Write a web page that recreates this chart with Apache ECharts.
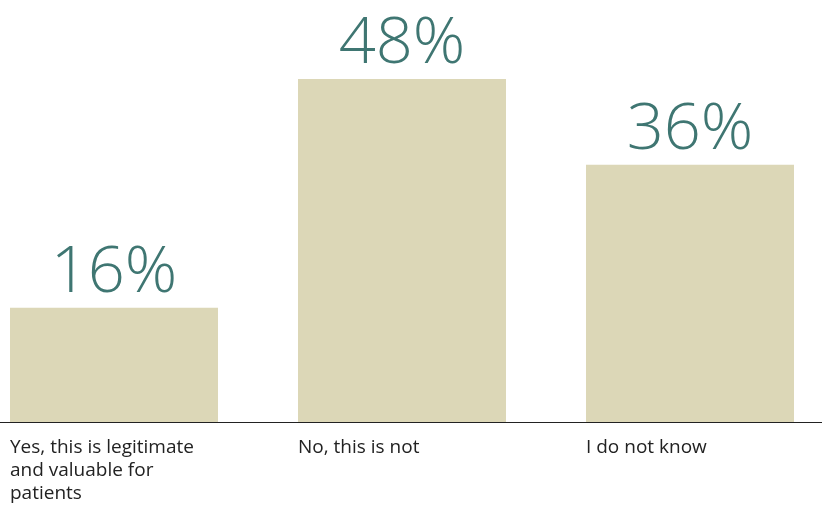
<!DOCTYPE html>
<html>
<head>
<meta charset="utf-8">
<script src="https://cdn.jsdelivr.net/npm/echarts@6/dist/echarts.min.js"></script>
<style>html,body{margin:0;padding:0;background:#fff}#c{width:822px;height:505px}</style>
</head>
<body>
<div id="c"></div>
<script>
var categories = ["Yes, this is legitimate\nand valuable for\npatients", "No, this is not", "I do not know"];
var values = [16, 48, 36];

var chart = echarts.init(document.getElementById('c'), null, {renderer: 'canvas'});
chart.setOption({
  animation: false,
  grid: [
    {left: 114, right: 132, top: 79, bottom: 83, containLabel: false},
    {left: 0, right: 0, top: 79, bottom: 83, containLabel: false}
  ],
  xAxis: [{
    type: 'category',
    gridIndex: 0,
    data: categories,
    boundaryGap: false,
    axisLine: {show: false},
    axisTick: {show: false},
    axisLabel: {
      interval: 0,
      margin: 14,
      align: 'center',
      verticalAlign: 'top',
      formatter: function (v) { return '{a|' + v + '}'; },
      rich: {
        a: {width: 208, align: 'left', fontFamily: 'Open Sans', fontSize: 19, lineHeight: 23, color: '#222'}
      }
    }
  }, {
    type: 'value',
    gridIndex: 1,
    min: 0, max: 1,
    axisLine: {show: true, onZero: false, lineStyle: {color: '#222', width: 1}},
    axisTick: {show: false},
    axisLabel: {show: false},
    splitLine: {show: false}
  }],
  yAxis: [
    {type: 'value', gridIndex: 0, min: 0, max: 48, show: false, splitLine: {show: false}},
    {type: 'value', gridIndex: 1, min: 0, max: 1, show: false, splitLine: {show: false}}
  ],
  series: [{
    type: 'bar',
    xAxisIndex: 0,
    yAxisIndex: 0,
    data: values,
    barWidth: 208,
    itemStyle: {color: '#dcd7b7'},
    label: {
      show: true,
      position: 'top',
      distance: 2,
      formatter: '{c}%',
      fontFamily: 'Open Sans',
      fontWeight: 300,
      fontSize: 65,
      color: '#3f7672'
    }
  }]
});
</script>
</body>
</html>
